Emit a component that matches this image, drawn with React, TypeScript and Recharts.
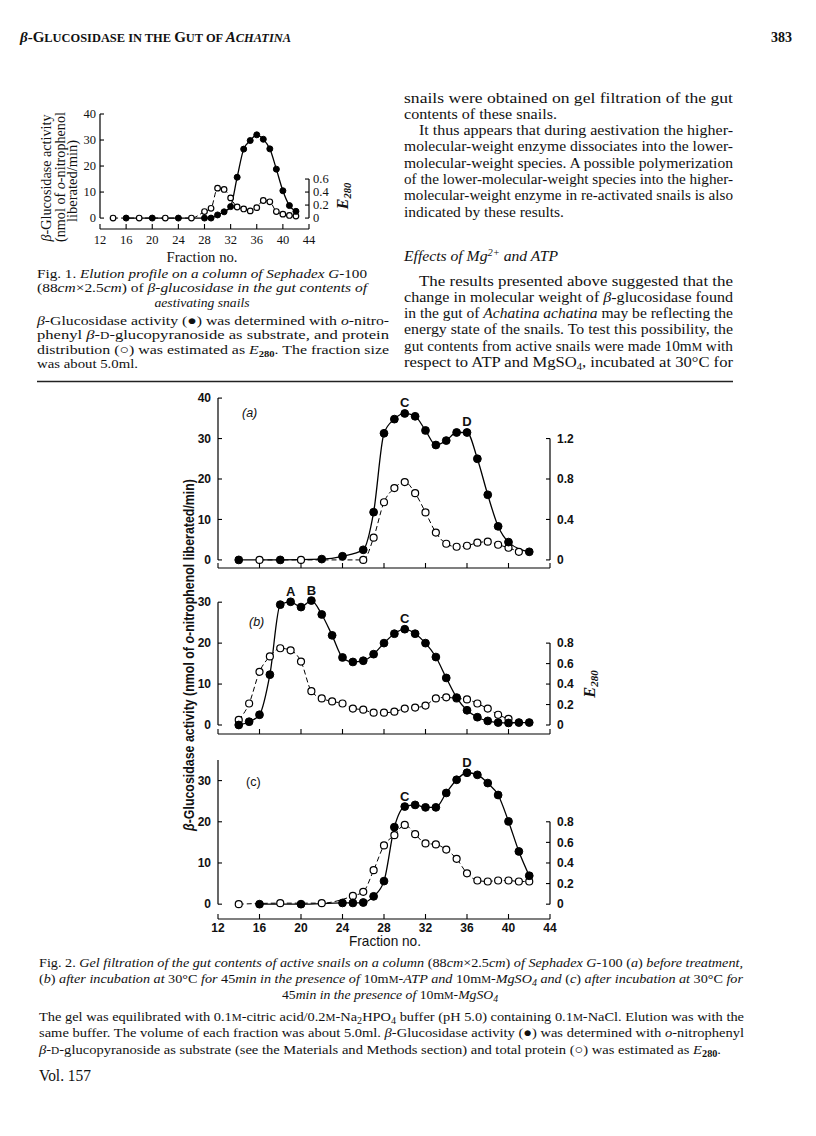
import React from "react";
import { LineChart, Line, XAxis, YAxis, ReferenceLine, ReferenceDot } from "recharts";

// ---------------- Data ----------------
const fractionTicks = [12, 16, 20, 24, 28, 32, 36, 40, 44];
const E_RATIO = 25; // activity units per E280 unit on the paired axes

// Fig. 1 – aestivating snails
const fig1ActivityFractions = [16, 20, 24, 28, 29, 30, 31, 32, 33, 34, 35, 36, 37, 38, 39, 40, 41, 42];
const fig1Activity = [0, 0, 0, 0, 0, 1.2, 2.4, 4.4, 15.7, 26.5, 29.8, 32, 30.3, 26.6, 18.8, 10.5, 4.8, 2.6];
const fig1E280Fractions = [14, 18, 22, 26, 28, 29, 30, 31, 32, 33, 34, 35, 36, 37, 38, 39, 40, 41, 42];
const fig1E280 = [0, 0, 0, 0, 0.1, 0.15, 0.46, 0.44, 0.31, 0.17, 0.14, 0.11, 0.16, 0.27, 0.25, 0.1, 0.06, 0.04, 0.03];
const fig1ActivityTicks = [0, 10, 20, 30, 40];
const fig1E280Ticks = [0, 0.2, 0.4, 0.6];

// Fig. 2(a) – before treatment
const aActivityFractions = [14, 18, 22, 24, 26, 27, 28, 29, 30, 31, 32, 33, 34, 35, 36, 37, 38, 39, 40, 42];
const aActivity = [0, 0, 0.2, 0.9, 2.5, 11.8, 31.3, 34.8, 36.2, 35.5, 32, 28.4, 29.5, 31.5, 31.5, 25, 16.1, 8.3, 4.4, 2];
const aE280Fractions = [16, 20, 26, 27, 28, 29, 30, 31, 32, 33, 34, 35, 36, 37, 38, 39, 40, 41];
const aE280 = [0, 0, 0, 0.22, 0.57, 0.71, 0.77, 0.66, 0.47, 0.27, 0.16, 0.13, 0.14, 0.17, 0.18, 0.15, 0.12, 0.08];
const aActivityTicks = [0, 10, 20, 30, 40];
const aE280Ticks = [0, 0.4, 0.8, 1.2];
const aPeakFractions = [30, 36];
const aPeakLetters = ["C", "D"];

// Fig. 2(b) – ATP + MgSO4
const bActivityFractions = [14, 15, 16, 17, 18, 19, 20, 21, 22, 23, 24, 25, 26, 27, 28, 29, 30, 31, 32, 33, 34, 35, 36, 37, 38, 39, 40, 41, 42];
const bActivity = [0, 0.8, 2.5, 12.3, 29.4, 30.1, 28.8, 30.4, 27, 21.9, 16.5, 15.4, 15.7, 17.3, 20, 22.3, 23.4, 22.3, 20, 16.6, 11.5, 6.7, 3.6, 1.9, 1, 0.6, 0.5, 0.6, 0.6];
const bE280Fractions = [14, 15, 16, 17, 18, 19, 20, 21, 22, 23, 24, 25, 26, 27, 28, 29, 30, 31, 32, 33, 34, 35, 36, 37, 38, 39, 40];
const bE280 = [0.05, 0.21, 0.52, 0.67, 0.75, 0.73, 0.62, 0.33, 0.26, 0.23, 0.21, 0.16, 0.15, 0.12, 0.12, 0.13, 0.16, 0.17, 0.19, 0.26, 0.27, 0.26, 0.25, 0.21, 0.16, 0.1, 0.06];
const bActivityTicks = [0, 10, 20, 30];
const bE280Ticks = [0, 0.2, 0.4, 0.6, 0.8];
const bPeakFractions = [19, 21, 30];
const bPeakLetters = ["A", "B", "C"];

// Fig. 2(c) – MgSO4 only
const cActivityFractions = [16, 20, 24, 25, 26, 27, 28, 29, 30, 31, 32, 33, 34, 35, 36, 37, 38, 39, 40, 41, 42];
const cActivity = [0, 0, 0.3, 0.3, 0.4, 1.9, 5.6, 18.7, 23.7, 24.1, 23.5, 23.5, 27, 30.2, 31.9, 31.4, 29.4, 26.5, 20.1, 12.8, 6.9];
const cE280Fractions = [14, 18, 22, 25, 26, 27, 28, 29, 30, 31, 32, 33, 34, 35, 36, 37, 38, 39, 40, 41, 42];
const cE280 = [0, 0.01, 0.01, 0.08, 0.12, 0.33, 0.57, 0.67, 0.77, 0.68, 0.59, 0.58, 0.53, 0.44, 0.3, 0.23, 0.22, 0.23, 0.23, 0.22, 0.22];
const cActivityTicks = [0, 10, 20, 30];
const cE280Ticks = [0, 0.2, 0.4, 0.6, 0.8];
const cPeakFractions = [30, 36];
const cPeakLetters = ["C", "D"];

// ---------------- Helpers ----------------
type Pt = { f: number; v: number };
const pairs = (fs: number[], vs: number[]): Pt[] => fs.map((f, i) => ({ f, v: vs[i] }));
const peaks = (fs: number[], letters: string[], actF: number[], act: number[]) =>
  fs.map((f, i) => ({ f, v: act[actF.indexOf(f)], text: letters[i] }));

const SERIF = '"Liberation Serif", "Times New Roman", serif';
const SANS = '"Liberation Sans", Arial, sans-serif';
const INK = "#111";

type PanelProps = {
  plot: { l: number; r: number; t: number; b: number };
  yDomain: [number, number];
  yTicks: number[];
  yTop: number;
  rTicks: number[];
  rTop: number;
  act: Pt[];
  e280: Pt[];
  peakList: { f: number; v: number; text: string }[];
  showXLabels: boolean;
  font: string;
  fontSize: number;
  fontWeight: string | number;
  rFilled: number;
  rOpen: number;
  labelGap: number;
  xLabelDy: number;
};

function Panel(p: PanelProps) {
  const padL = 50, padR = 50, padT = 30, padB = 30;
  const width = p.plot.r - p.plot.l + padL + padR;
  const height = p.plot.b - p.plot.t + padT + padB;
  const rDomain: [number, number] = [p.yDomain[0] / E_RATIO, p.yDomain[1] / E_RATIO];
  const txt = { fontFamily: p.font, fontSize: p.fontSize, fontWeight: p.fontWeight, fill: INK } as any;

  const xTick = (props: any) => {
    const { x, y, payload } = props;
    return (
      <g>
        <line x1={x} x2={x} y1={y} y2={y - 5} stroke="#000" strokeWidth={1.1} />
        {p.showXLabels ? (
          <text x={x} y={y + p.xLabelDy} textAnchor="middle" {...txt}>
            {payload.value}
          </text>
        ) : null}
      </g>
    );
  };
  const lTick = (props: any) => {
    const { x, y, payload } = props;
    return (
      <g>
        <line x1={x} x2={x + 4} y1={y} y2={y} stroke="#000" strokeWidth={1.1} />
        <text x={x - p.labelGap} y={y} dy="0.35em" textAnchor="end" {...txt}>
          {payload.value}
        </text>
      </g>
    );
  };
  const rTick = (props: any) => {
    const { x, y, payload } = props;
    return (
      <g>
        <line x1={x - 4} x2={x} y1={y} y2={y} stroke="#000" strokeWidth={1.1} />
        <text x={x + p.labelGap} y={y} dy="0.35em" textAnchor="start" {...txt}>
          {String(payload.value)}
        </text>
      </g>
    );
  };

  return (
    <div style={{ position: "absolute", left: p.plot.l - padL, top: p.plot.t - padT }}>
      <LineChart width={width} height={height} margin={{ top: padT, right: 0, bottom: 0, left: 0 }}>
        <XAxis
          xAxisId="x"
          type="number"
          dataKey="f"
          domain={[12, 44]}
          ticks={fractionTicks}
          allowDataOverflow
          interval={0}
          height={padB}
          tickSize={0}
          tickMargin={0}
          tickLine={false}
          axisLine={{ stroke: "#000", strokeWidth: 1.2 }}
          tick={xTick}
        />
        <YAxis
          yAxisId="l"
          orientation="left"
          type="number"
          width={padL}
          domain={p.yDomain}
          ticks={p.yTicks}
          allowDataOverflow
          interval={0}
          tickSize={0}
          tickMargin={0}
          tickLine={false}
          axisLine={false}
          tick={lTick}
        />
        <YAxis
          yAxisId="r"
          orientation="right"
          type="number"
          width={padR}
          domain={rDomain}
          ticks={p.rTicks}
          allowDataOverflow
          interval={0}
          tickSize={0}
          tickMargin={0}
          tickLine={false}
          axisLine={false}
          tick={rTick}
        />
        <ReferenceLine
          xAxisId="x"
          yAxisId="l"
          segment={[{ x: 12, y: 0 }, { x: 12, y: p.yTop }]}
          stroke="#000"
          strokeWidth={1.2}
          ifOverflow="visible"
        />
        <ReferenceLine
          xAxisId="x"
          yAxisId="r"
          segment={[{ x: 44, y: 0 }, { x: 44, y: p.rTop }]}
          stroke="#000"
          strokeWidth={1.2}
          ifOverflow="visible"
        />
        <Line xAxisId="x" yAxisId="l" data={p.act} dataKey="v" type="monotone" stroke="#000" strokeWidth={1.3} dot={false} activeDot={false} isAnimationActive={false} />
        <Line xAxisId="x" yAxisId="r" data={p.e280} dataKey="v" type="monotone" stroke="#000" strokeWidth={1} strokeDasharray="5 3" dot={false} activeDot={false} isAnimationActive={false} />
        <Line xAxisId="x" yAxisId="r" data={p.e280} dataKey="v" stroke="none" dot={{ r: p.rOpen, fill: "#fff", stroke: "#000", strokeWidth: 1.2 }} activeDot={false} isAnimationActive={false} />
        <Line xAxisId="x" yAxisId="l" data={p.act} dataKey="v" stroke="none" dot={{ r: p.rFilled, fill: "#000", stroke: "#000", strokeWidth: 1 }} activeDot={false} isAnimationActive={false} />
        {p.peakList.map((pk) => (
          <ReferenceDot
            key={pk.text + pk.f}
            xAxisId="x"
            yAxisId="l"
            x={pk.f}
            y={pk.v}
            r={0}
            fill="none"
            stroke="none"
            ifOverflow="visible"
            label={{ value: pk.text, position: "top", offset: 6, fontFamily: SANS, fontSize: 13, fontWeight: 600, fill: INK }}
          />
        ))}
      </LineChart>
    </div>
  );
}

// text helpers
function TL(props: any) {
  const { x, y, w, size = 13, family = SERIF, anchor = "start", weight = "normal", italic = false, rotate = 0, children } = props;
  return (
    <text
      x={x}
      y={y}
      fontSize={size}
      fontFamily={family}
      textAnchor={anchor}
      fontWeight={weight}
      fontStyle={italic ? "italic" : "normal"}
      textLength={w}
      lengthAdjust={w ? "spacingAndGlyphs" : undefined}
      transform={rotate ? `rotate(${rotate} ${x} ${y})` : undefined}
      fill={INK}
    >
      {children}
    </text>
  );
}
const I = ({ children }: any) => <tspan fontStyle="italic">{children}</tspan>;

export default function App() {
  const W = 816, H = 1136;
  const fig1 = {
    act: pairs(fig1ActivityFractions, fig1Activity),
    e: pairs(fig1E280Fractions, fig1E280),
  };
  const a = { act: pairs(aActivityFractions, aActivity), e: pairs(aE280Fractions, aE280) };
  const b = { act: pairs(bActivityFractions, bActivity), e: pairs(bE280Fractions, bE280) };
  const c = { act: pairs(cActivityFractions, cActivity), e: pairs(cE280Fractions, cE280) };

  const fig2Common = {
    font: SANS,
    fontSize: 12,
    fontWeight: 600,
    rFilled: 3.9,
    rOpen: 3.5,
    labelGap: 7,
    xLabelDy: 13,
  };
  const RS = 15; // right column font size
  const LS = 13.5; // left column font size

  return (
    <div style={{ position: "absolute", left: 0, top: 0, width: W, height: H, background: "#fff", overflow: "hidden" }}>
      <svg width={W} height={H} style={{ position: "absolute", left: 0, top: 0 }}>
        {/* running header */}
        <TL x={20} y={42} w={271} size={14.5} weight="bold">
          <tspan fontStyle="italic">β</tspan>-G<tspan fontSize={12}>LUCOSIDASE IN THE </tspan>G<tspan fontSize={12}>UT OF </tspan>
          <tspan fontStyle="italic">A</tspan>
          <tspan fontStyle="italic" fontSize={12}>CHATINA</tspan>
        </TL>
        <TL x={771} y={42} w={21} size={14} weight="bold">383</TL>

        {/* Fig. 1 axis titles */}
        <TL x={51} y={178} w={127} size={14} anchor="middle" rotate={-90}>
          <I>β</I>-Glucosidase activity
        </TL>
        <TL x={65} y={177} w={130} size={14} anchor="middle" rotate={-90}>
          (nmol of <I>o</I>-nitrophenol
        </TL>
        <TL x={77} y={181} w={82} size={14} anchor="middle" rotate={-90}>
          liberated/min)
        </TL>
        <text x={348} y={196} fontFamily={SERIF} fontSize={16} fontWeight="bold" fontStyle="italic" textAnchor="middle" transform="rotate(-90 348 196)" fill={INK}>
          E<tspan fontSize={10.5} dy={3}>280</tspan>
        </text>
        <TL x={202} y={262} w={71} size={15.5} anchor="middle">Fraction no.</TL>

        {/* Fig. 1 caption */}
        <TL x={37} y={278} w={330} size={LS}>
          Fig. 1. <I>Elution profile on a column of Sephadex G-</I>100
        </TL>
        <TL x={37} y={292} w={330} size={LS}>
          (88<I>cm</I>×2.5<I>cm</I>) of <I>β-glucosidase in the gut contents of</I>
        </TL>
        <TL x={202} y={307} w={95} size={LS} anchor="middle" italic>
          aestivating snails
        </TL>
        <TL x={37} y={325} w={352} size={LS}>
          <I>β</I>-Glucosidase activity (●) was determined with <I>o</I>-nitro-
        </TL>
        <TL x={37} y={339} w={352} size={LS}>
          phenyl <I>β</I>-<tspan fontSize={10.5}>D</tspan>-glucopyranoside as substrate, and protein
        </TL>
        <TL x={37} y={354} w={352} size={LS}>
          distribution (○) was estimated as <I>E</I>
          <tspan fontSize={9} dy={3} fontWeight="bold">280</tspan>
          <tspan dy={-3}>. The fraction size</tspan>
        </TL>
        <TL x={37} y={368} w={101} size={LS}>was about 5.0ml.</TL>

        {/* right column */}
        <TL x={404} y={103} w={329} size={RS}>snails were obtained on gel filtration of the gut</TL>
        <TL x={404} y={119} w={153} size={RS}>contents of these snails.</TL>
        <TL x={419} y={135} w={314} size={RS}>It thus appears that during aestivation the higher-</TL>
        <TL x={404} y={151} w={329} size={RS}>molecular-weight enzyme dissociates into the lower-</TL>
        <TL x={404} y={167.5} w={329} size={RS}>molecular-weight species. A possible polymerization</TL>
        <TL x={404} y={184} w={329} size={RS}>of the lower-molecular-weight species into the higher-</TL>
        <TL x={404} y={200} w={329} size={RS}>molecular-weight enzyme in re-activated snails is also</TL>
        <TL x={404} y={216.5} w={160} size={RS}>indicated by these results.</TL>
        <TL x={404} y={261} w={154} size={RS} italic>
          Effects of Mg<tspan fontSize={10} dy={-5}>2+</tspan>
          <tspan dy={5}> and ATP</tspan>
        </TL>
        <TL x={419} y={286} w={314} size={RS}>The results presented above suggested that the</TL>
        <TL x={404} y={302} w={329} size={RS}>
          change in molecular weight of <I>β</I>-glucosidase found
        </TL>
        <TL x={404} y={318} w={329} size={RS}>
          in the gut of <I>Achatina achatina</I> may be reflecting the
        </TL>
        <TL x={404} y={334} w={329} size={RS}>energy state of the snails. To test this possibility, the</TL>
        <TL x={404} y={350.5} w={329} size={RS}>
          gut contents from active snails were made 10m<tspan fontSize={11.5}>M</tspan> with
        </TL>
        <TL x={404} y={367} w={329} size={RS}>
          respect to ATP and MgSO<tspan fontSize={9.5} dy={3}>4</tspan>
          <tspan dy={-3}>, incubated at 30°C for</tspan>
        </TL>

        <line x1={37} x2={733} y1={381.5} y2={381.5} stroke="#222" strokeWidth={1.6} />

        {/* Fig. 2 panel letters */}
        <TL x={242} y={417} size={12.5} family={SANS} italic>(a)</TL>
        <TL x={249} y={626} size={12.5} family={SANS} italic>(b)</TL>
        <TL x={246} y={786} size={12.5} family={SANS}>(c)</TL>

        {/* Fig. 2 axis titles */}
        <TL x={194} y={655} w={352} size={14.5} family={SANS} weight={600} anchor="middle" rotate={-90}>
          <I>β</I>-Glucosidase activity (nmol of <I>o</I>-nitrophenol liberated/min)
        </TL>
        <text x={595} y={684} fontFamily={SERIF} fontSize={16.5} fontWeight="bold" fontStyle="italic" textAnchor="middle" transform="rotate(-90 595 684)" fill={INK}>
          E<tspan fontSize={11} dy={3}>280</tspan>
        </text>
        <TL x={385} y={946} w={72} size={14.5} family={SANS} anchor="middle">
          Fraction no.
        </TL>

        {/* Fig. 2 caption */}
        <TL x={39} y={967} w={704} size={13.5}>
          Fig. 2. <I>Gel filtration of the gut contents of active snails on a column </I>(88<I>cm</I>×2.5<I>cm</I>) <I>of Sephadex G-</I>100 (<I>a</I>) <I>before treatment,</I>
        </TL>
        <TL x={39} y={983} w={704} size={13.5}>
          (<I>b</I>) <I>after incubation at </I>30°C <I>for </I>45<I>min in the presence of </I>10m<tspan fontSize={10.5}>M</tspan>-<I>ATP and </I>10m<tspan fontSize={10.5}>M</tspan>-<I>MgSO</I>
          <tspan fontSize={9.5} dy={3} fontStyle="italic">4</tspan>
          <tspan dy={-3} fontStyle="italic"> and </tspan>(<I>c</I>) <I>after incubation at </I>30°C <I>for</I>
        </TL>
        <TL x={390} y={999} w={216} size={13.5} anchor="middle">
          45<I>min in the presence of </I>10m<tspan fontSize={10.5}>M</tspan>-<I>MgSO</I>
          <tspan fontSize={9.5} dy={3} fontStyle="italic">4</tspan>
        </TL>
        <TL x={39} y={1021} w={705} size={13.5}>
          The gel was equilibrated with 0.1<tspan fontSize={10.5}>M</tspan>-citric acid/0.2<tspan fontSize={10.5}>M</tspan>-Na
          <tspan fontSize={9.5} dy={3}>2</tspan>
          <tspan dy={-3}>HPO</tspan>
          <tspan fontSize={9.5} dy={3}>4</tspan>
          <tspan dy={-3}> buffer (pH 5.0) containing 0.1</tspan>
          <tspan fontSize={10.5}>M</tspan>-NaCl. Elution was with the
        </TL>
        <TL x={39} y={1037} w={705} size={13.5}>
          same buffer. The volume of each fraction was about 5.0ml. <I>β</I>-Glucosidase activity (●) was determined with <I>o</I>-nitrophenyl
        </TL>
        <TL x={39} y={1054} w={682} size={13.5}>
          <I>β</I>-<tspan fontSize={10.5}>D</tspan>-glucopyranoside as substrate (see the Materials and Methods section) and total protein (○) was estimated as <I>E</I>
          <tspan fontSize={9.5} dy={3} fontWeight="bold">280</tspan>
          <tspan dy={-3}>.</tspan>
        </TL>
        <TL x={39} y={1081} w={52} size={16}>Vol. 157</TL>
      </svg>

      {/* Fig. 1 */}
      <Panel
        plot={{ l: 100, r: 309, t: 114, b: 229 }}
        yDomain={[-4.2, 40]}
        yTicks={fig1ActivityTicks}
        yTop={40}
        rTicks={fig1E280Ticks}
        rTop={0.6}
        act={fig1.act}
        e280={fig1.e}
        peakList={[]}
        showXLabels={true}
        font={SERIF}
        fontSize={12.5}
        fontWeight="normal"
        rFilled={3}
        rOpen={2.8}
        labelGap={4}
        xLabelDy={15}
      />

      {/* Fig. 2 (a) */}
      <Panel
        plot={{ l: 218, r: 550, t: 390, b: 568 }}
        yDomain={[-2, 42]}
        yTicks={aActivityTicks}
        yTop={40}
        rTicks={aE280Ticks}
        rTop={1.2}
        act={a.act}
        e280={a.e}
        peakList={peaks(aPeakFractions, aPeakLetters, aActivityFractions, aActivity)}
        showXLabels={false}
        {...fig2Common}
      />
      {/* Fig. 2 (b) */}
      <Panel
        plot={{ l: 218, r: 550, t: 594, b: 734 }}
        yDomain={[-2.2, 32]}
        yTicks={bActivityTicks}
        yTop={30}
        rTicks={bE280Ticks}
        rTop={0.8}
        act={b.act}
        e280={b.e}
        peakList={peaks(bPeakFractions, bPeakLetters, bActivityFractions, bActivity)}
        showXLabels={false}
        {...fig2Common}
      />
      {/* Fig. 2 (c) */}
      <Panel
        plot={{ l: 218, r: 550, t: 760, b: 919 }}
        yDomain={[-3.6, 35]}
        yTicks={cActivityTicks}
        yTop={35}
        rTicks={cE280Ticks}
        rTop={0.8}
        act={c.act}
        e280={c.e}
        peakList={peaks(cPeakFractions, cPeakLetters, cActivityFractions, cActivity)}
        showXLabels={true}
        {...fig2Common}
      />
    </div>
  );
}
